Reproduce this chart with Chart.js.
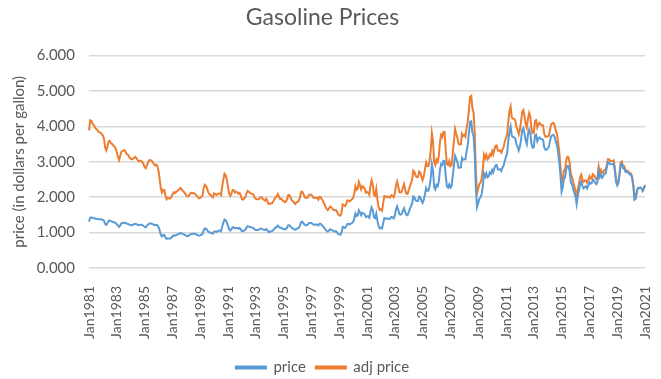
<!DOCTYPE html>
<html>
<head>
<meta charset="utf-8">
<script src="https://cdn.jsdelivr.net/npm/chart.js@4.4.0/dist/chart.umd.min.js"></script>
<style>
  html, body { margin: 0; padding: 0; background: #fff; }
  #wrap { width: 661px; height: 379px; }
</style>
</head>
<body>
<div id="wrap"><canvas id="gas"></canvas></div>
<script>
//// data
const monthNames = ["Jan", "Feb", "Mar", "Apr", "May", "Jun", "Jul", "Aug", "Sep", "Oct", "Nov", "Dec"]
const firstYear = 1981
const lastYear = 2021 // only Jan of the last year

// monthly price, one row per year (1981 ... 2020, then Jan 2021)
const price = [
    1.31, 1.42, 1.43, 1.41, 1.41, 1.40, 1.39, 1.39, 1.38, 1.38, 1.38, 1.37,
    1.36, 1.33, 1.24, 1.22, 1.27, 1.33, 1.34, 1.32, 1.31, 1.30, 1.29, 1.27,
    1.24, 1.19, 1.16, 1.21, 1.26, 1.27, 1.28, 1.28, 1.26, 1.25, 1.24, 1.22,
    1.21, 1.21, 1.22, 1.24, 1.25, 1.24, 1.22, 1.21, 1.22, 1.22, 1.21, 1.19,
    1.16, 1.15, 1.19, 1.23, 1.25, 1.26, 1.25, 1.24, 1.22, 1.21, 1.22, 1.21,
    1.16, 1.06, 0.94, 0.89, 0.93, 0.93, 0.86, 0.82, 0.84, 0.83, 0.83, 0.85,
    0.89, 0.92, 0.91, 0.93, 0.94, 0.96, 0.97, 0.99, 0.98, 0.96, 0.95, 0.93,
    0.91, 0.90, 0.91, 0.94, 0.96, 0.96, 0.97, 0.97, 0.96, 0.94, 0.93, 0.91,
    0.92, 0.94, 0.96, 1.07, 1.12, 1.11, 1.07, 1.03, 1.00, 1.00, 0.98, 0.97,
    1.03, 1.03, 1.02, 1.04, 1.05, 1.06, 1.04, 1.17, 1.28, 1.37, 1.35, 1.29,
    1.19, 1.09, 1.06, 1.10, 1.15, 1.15, 1.12, 1.13, 1.13, 1.11, 1.13, 1.09,
    1.04, 1.04, 1.06, 1.08, 1.14, 1.18, 1.17, 1.16, 1.15, 1.14, 1.13, 1.09,
    1.07, 1.07, 1.07, 1.09, 1.11, 1.11, 1.09, 1.08, 1.07, 1.10, 1.07, 1.02,
    1.02, 1.04, 1.04, 1.07, 1.11, 1.14, 1.16, 1.20, 1.16, 1.13, 1.14, 1.11,
    1.10, 1.09, 1.10, 1.14, 1.21, 1.21, 1.17, 1.13, 1.12, 1.10, 1.08, 1.10,
    1.12, 1.13, 1.19, 1.29, 1.31, 1.27, 1.23, 1.21, 1.21, 1.23, 1.27, 1.27,
    1.27, 1.25, 1.22, 1.22, 1.23, 1.23, 1.20, 1.25, 1.25, 1.21, 1.18, 1.14,
    1.09, 1.05, 1.03, 1.05, 1.09, 1.08, 1.07, 1.04, 1.03, 1.04, 1.01, 0.96,
    0.95, 0.94, 1.00, 1.16, 1.15, 1.13, 1.17, 1.24, 1.25, 1.23, 1.25, 1.27,
    1.30, 1.39, 1.54, 1.47, 1.49, 1.63, 1.57, 1.49, 1.56, 1.54, 1.52, 1.44,
    1.46, 1.46, 1.42, 1.59, 1.71, 1.63, 1.43, 1.41, 1.54, 1.33, 1.18, 1.12,
    1.14, 1.12, 1.27, 1.41, 1.40, 1.39, 1.40, 1.39, 1.39, 1.44, 1.43, 1.40,
    1.48, 1.65, 1.74, 1.64, 1.52, 1.51, 1.53, 1.63, 1.69, 1.57, 1.50, 1.49,
    1.58, 1.67, 1.75, 1.83, 2.02, 1.99, 1.91, 1.89, 1.89, 2.02, 2.00, 1.90,
    1.84, 1.93, 2.08, 2.26, 2.18, 2.18, 2.31, 2.53, 2.93, 2.75, 2.28, 2.22,
    2.35, 2.31, 2.45, 2.78, 2.94, 2.91, 3.03, 3.02, 2.59, 2.30, 2.27, 2.36,
    2.27, 2.31, 2.59, 2.89, 3.17, 3.09, 3.00, 2.83, 2.84, 2.84, 3.11, 3.06,
    3.08, 3.07, 3.30, 3.48, 3.80, 4.13, 4.15, 3.82, 3.73, 3.21, 2.23, 1.72,
    1.83, 1.96, 1.99, 2.09, 2.31, 2.67, 2.58, 2.67, 2.56, 2.59, 2.70, 2.66,
    2.77, 2.70, 2.82, 2.90, 2.91, 2.78, 2.78, 2.79, 2.74, 2.84, 2.90, 3.03,
    3.14, 3.25, 3.60, 3.85, 4.00, 3.73, 3.70, 3.69, 3.66, 3.50, 3.43, 3.32,
    3.43, 3.63, 3.90, 3.95, 3.79, 3.60, 3.50, 3.78, 3.91, 3.81, 3.51, 3.40,
    3.41, 3.75, 3.77, 3.58, 3.66, 3.69, 3.65, 3.64, 3.62, 3.41, 3.34, 3.34,
    3.38, 3.42, 3.59, 3.72, 3.75, 3.76, 3.70, 3.56, 3.48, 3.25, 2.98, 2.62,
    2.16, 2.28, 2.53, 2.55, 2.80, 2.88, 2.87, 2.72, 2.42, 2.36, 2.23, 2.12,
    2.02, 1.80, 2.03, 2.20, 2.38, 2.44, 2.31, 2.25, 2.29, 2.31, 2.25, 2.33,
    2.42, 2.38, 2.40, 2.50, 2.47, 2.41, 2.37, 2.43, 2.73, 2.57, 2.64, 2.55,
    2.60, 2.66, 2.67, 2.83, 2.98, 2.98, 2.93, 2.93, 2.93, 2.95, 2.74, 2.43,
    2.33, 2.39, 2.63, 2.92, 2.95, 2.82, 2.82, 2.72, 2.70, 2.72, 2.68, 2.64,
    2.64, 2.52, 2.30, 1.93, 1.96, 2.16, 2.26, 2.26, 2.27, 2.25, 2.18, 2.24,
    2.34
]

// inflation adjusted price, same months
const adjPrice = [
    3.89, 4.17, 4.16, 4.07, 4.05, 3.99, 3.93, 3.91, 3.85, 3.84, 3.82, 3.78,
    3.74, 3.64, 3.39, 3.32, 3.44, 3.58, 3.59, 3.52, 3.50, 3.46, 3.43, 3.38,
    3.27, 3.13, 3.05, 3.17, 3.29, 3.30, 3.33, 3.32, 3.25, 3.21, 3.19, 3.12,
    3.09, 3.07, 3.09, 3.12, 3.14, 3.10, 3.05, 3.01, 3.03, 3.03, 2.99, 2.94,
    2.85, 2.82, 2.90, 2.99, 3.04, 3.05, 3.03, 2.99, 2.94, 2.90, 2.92, 2.88,
    2.75, 2.52, 2.25, 2.13, 2.21, 2.20, 2.04, 1.94, 1.98, 1.96, 1.96, 2.00,
    2.08, 2.14, 2.11, 2.15, 2.16, 2.21, 2.22, 2.26, 2.22, 2.18, 2.15, 2.10,
    2.05, 2.02, 2.03, 2.09, 2.12, 2.11, 2.12, 2.11, 2.08, 2.04, 2.01, 1.97,
    1.98, 2.01, 2.04, 2.26, 2.35, 2.32, 2.24, 2.14, 2.08, 2.07, 2.02, 2.00,
    2.11, 2.09, 2.06, 2.09, 2.10, 2.11, 2.06, 2.30, 2.50, 2.66, 2.62, 2.50,
    2.30, 2.10, 2.04, 2.11, 2.20, 2.20, 2.13, 2.15, 2.14, 2.10, 2.12, 2.05,
    1.94, 1.93, 1.97, 2.00, 2.11, 2.18, 2.15, 2.13, 2.10, 2.09, 2.07, 1.99,
    1.95, 1.94, 1.94, 1.96, 2.00, 2.00, 1.95, 1.93, 1.90, 1.96, 1.89, 1.81,
    1.81, 1.83, 1.83, 1.87, 1.94, 2.00, 2.02, 2.09, 2.01, 1.95, 1.96, 1.91,
    1.89, 1.86, 1.88, 1.94, 2.06, 2.06, 1.99, 1.91, 1.89, 1.85, 1.81, 1.85,
    1.87, 1.89, 1.98, 2.14, 2.16, 2.10, 2.03, 1.98, 1.98, 2.00, 2.07, 2.07,
    2.07, 2.03, 1.98, 1.98, 1.99, 1.98, 1.93, 2.01, 2.00, 1.94, 1.89, 1.82,
    1.74, 1.68, 1.64, 1.67, 1.73, 1.72, 1.69, 1.64, 1.63, 1.64, 1.60, 1.52,
    1.49, 1.48, 1.56, 1.80, 1.78, 1.75, 1.80, 1.91, 1.91, 1.88, 1.91, 1.94,
    1.98, 2.10, 2.31, 2.21, 2.24, 2.43, 2.34, 2.22, 2.31, 2.28, 2.25, 2.13,
    2.15, 2.13, 2.07, 2.32, 2.48, 2.36, 2.07, 2.04, 2.23, 1.93, 1.72, 1.64,
    1.66, 1.62, 1.84, 2.03, 2.02, 2.00, 2.02, 1.99, 1.99, 2.06, 2.04, 2.00,
    2.10, 2.33, 2.44, 2.31, 2.14, 2.13, 2.16, 2.28, 2.37, 2.20, 2.10, 2.09,
    2.20, 2.30, 2.40, 2.51, 2.75, 2.71, 2.60, 2.57, 2.57, 2.73, 2.70, 2.58,
    2.48, 2.59, 2.77, 2.98, 2.88, 2.88, 3.03, 3.31, 3.81, 3.58, 2.99, 2.91,
    3.06, 3.00, 3.16, 3.56, 3.76, 3.70, 3.85, 3.84, 3.29, 2.94, 2.91, 3.02,
    2.88, 2.91, 3.24, 3.58, 3.93, 3.80, 3.69, 3.51, 3.49, 3.49, 3.79, 3.73,
    3.76, 3.71, 3.96, 4.14, 4.48, 4.83, 4.86, 4.51, 4.40, 3.82, 2.70, 2.10,
    2.23, 2.37, 2.41, 2.53, 2.80, 3.20, 3.10, 3.20, 3.07, 3.11, 3.21, 3.17,
    3.30, 3.21, 3.36, 3.45, 3.46, 3.31, 3.31, 3.32, 3.26, 3.35, 3.42, 3.58,
    3.67, 3.77, 4.14, 4.43, 4.56, 4.25, 4.22, 4.21, 4.17, 3.99, 3.91, 3.78,
    3.91, 4.14, 4.41, 4.46, 4.28, 4.07, 3.96, 4.23, 4.38, 4.27, 3.93, 3.81,
    3.82, 4.16, 4.18, 3.97, 4.06, 4.10, 4.05, 4.04, 4.02, 3.79, 3.71, 3.71,
    3.72, 3.73, 3.91, 4.05, 4.09, 4.10, 4.03, 3.88, 3.79, 3.54, 3.28, 2.88,
    2.38, 2.51, 2.76, 2.78, 3.05, 3.14, 3.13, 2.96, 2.64, 2.57, 2.43, 2.31,
    2.20, 1.96, 2.21, 2.38, 2.57, 2.64, 2.49, 2.43, 2.47, 2.47, 2.41, 2.49,
    2.59, 2.52, 2.54, 2.65, 2.62, 2.55, 2.51, 2.58, 2.87, 2.70, 2.77, 2.68,
    2.70, 2.77, 2.78, 2.91, 3.07, 3.07, 3.02, 3.02, 3.02, 3.04, 2.82, 2.50,
    2.40, 2.46, 2.68, 2.98, 3.01, 2.88, 2.88, 2.77, 2.75, 2.75, 2.71, 2.67,
    2.67, 2.55, 2.32, 1.95, 1.98, 2.18, 2.26, 2.26, 2.27, 2.25, 2.18, 2.24,
    2.33
]

const yTicks = [0, 1, 2, 3, 4, 5, 6]

// category labels "Jan1981" ... "Jan2021"
const labels = []
for (let y = firstYear; y <= lastYear; y++) {
    for (let m = 0; m < 12; m++) {
        if (y === lastYear && m > 0) break
        labels.push(monthNames[m] + y)
    }
}

//// chart
const textColor = '#595959'
const fontFamily = "Lato, 'Open Sans', sans-serif"

Chart.defaults.font.family = fontFamily
Chart.defaults.color = textColor

let gasChart = new Chart(document.querySelector("#gas"), {
    type: 'line',
    data: {
        labels: labels,
        datasets: [
            {
                label: 'price',
                data: price,
                borderColor: '#5B9BD5',
                backgroundColor: '#5B9BD5',
                borderWidth: 2,
                pointRadius: 0,
                tension: 0
            },
            {
                label: 'adj price',
                data: adjPrice,
                borderColor: '#ED7D31',
                backgroundColor: '#ED7D31',
                borderWidth: 2,
                pointRadius: 0,
                tension: 0
            }
        ]
    },
    options: {
        responsive: true,
        maintainAspectRatio: false,
        animation: false,
        layout: {
            padding: { left: 0, right: 16, top: 0, bottom: -6 }
        },
        plugins: {
            title: {
                display: true,
                text: 'Gasoline Prices',
                color: textColor,
                font: { size: 23, weight: 'normal' },
                padding: { top: 4, bottom: 24 }
            },
            legend: {
                display: true,
                position: 'bottom',
                labels: {
                    boxWidth: 30,
                    boxHeight: 2,
                    padding: 10,
                    color: textColor,
                    font: { size: 15 }
                }
            },
            tooltip: { enabled: false }
        },
        scales: {
            x: {
                grid: { display: false },
                border: { display: false },
                ticks: {
                    autoSkip: false,
                    minRotation: 90,
                    maxRotation: 90,
                    padding: 10,
                    font: { size: 14 },
                    color: textColor,
                    callback: function (val, idx) {
                        return idx % 24 === 0 ? labels[idx] : ''
                    }
                },
                afterFit: function (scale) {
                    scale.height = 82
                    // let the plot run to the right edge like the original
                    scale.paddingLeft = 0
                    scale.paddingRight = 0
                }
            },
            y: {
                min: 0,
                max: 6,
                afterBuildTicks: function (scale) {
                    scale.ticks = yTicks.map(v => ({ value: v }))
                },
                grid: { color: '#D9D9D9', lineWidth: 1.5, drawTicks: false },
                border: { display: false },
                ticks: {
                    padding: 14,
                    font: { size: 15 },
                    color: textColor,
                    callback: v => v.toFixed(3)
                },
                title: {
                    display: true,
                    text: 'price (in dollars per gallon)',
                    color: textColor,
                    font: { size: 15 },
                    padding: { top: 10, bottom: 0 }
                },
                afterFit: function (scale) {
                    scale.width = 89
                }
            }
        }
    }
});

gasChart.update()
</script>
</body>
</html>
